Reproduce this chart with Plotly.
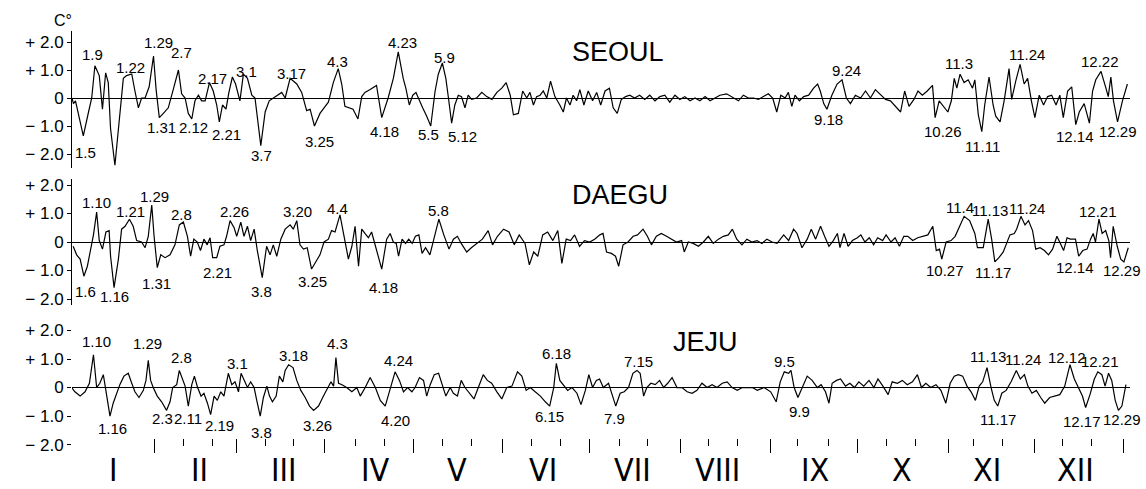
import plotly.graph_objects as go

W, H = 1146, 489

# ---------------- data (day of year, anomaly in C) ----------------
seoul_day = [1.0,1.5,2.2,4.9,6.7,7.8,8.9,10.4,11.5,12.6,13.5,14.3,15.8,17.5,18.7,19.8,21.6,22.7,23.9,25.0,26.2,27.6,29.1,30.0,31.1,32.5,34.2,35.9,37.7,38.8,40.0,41.1,42.3,43.4,44.6,45.7,46.9,48.4,49.7,50.9,51.8,52.9,54.1,55.1,56.3,57.4,58.9,60.1,61.5,63.0,64.1,66.1,67.6,69.0,70.4,72.2,73.3,74.5,76.2,78.5,80.2,81.9,83.1,84.6,86.5,88.3,89.4,91.1,92.8,94.0,95.1,97.9,99.6,100.9,102.0,103.8,106.0,107.8,110.0,111.8,113.5,115.2,116.1,117.3,118.5,119.6,120.8,121.9,123.3,124.7,126.2,127.3,128.7,129.9,130.8,131.9,133.0,134.2,135.3,136.5,137.6,138.8,140.5,142.3,144.0,145.8,147.5,149.2,150.7,152.1,153.2,154.9,156.4,157.8,158.9,160.1,161.2,162.4,163.5,164.7,166.0,167.5,169.2,170.4,171.5,172.7,173.8,175.0,176.1,177.5,179.0,180.5,181.9,183.3,184.8,186.3,187.6,189.0,190.4,191.9,193.3,195.0,196.7,198.5,200.2,202.0,203.7,205.4,207.1,208.9,210.6,212.3,214.1,215.8,217.5,219.3,221.0,222.7,224.4,226.7,229.0,230.8,232.5,234.2,236.0,237.7,239.4,241.1,242.6,244.0,245.4,246.9,248.0,249.2,250.3,251.8,253.3,255.0,256.7,258.1,259.0,260.2,261.3,263.0,264.8,266.5,268.0,269.4,271.1,272.9,274.6,276.3,278.0,279.8,281.5,283.2,285.0,286.7,288.1,289.6,291.3,292.7,294.2,295.9,297.7,298.6,300.0,301.7,303.0,304.2,305.2,306.1,307.2,308.6,310.0,311.5,312.3,313.5,314.7,315.7,317.2,318.6,319.5,321.0,322.4,324.1,325.0,326.4,327.9,329.3,330.5,331.8,333.0,334.5,336.0,337.4,338.8,340.3,341.6,342.8,344.3,345.7,347.1,348.3,350.0,351.8,352.9,354.0,355.8,357.5,358.3,359.2,360.1,361.5,363.2,364.9]
seoul_val = [0,-0.2,-0.1,-1.35,-0.5,0,1.15,0.8,-0.4,0.9,0.55,-1.1,-2.4,-0.6,0.7,0.8,0.86,0.25,-0.35,0,0,0.4,1.5,0.3,-0.7,-0.55,-0.35,0.3,1.0,0.15,0,-0.55,-0.75,-0.1,0.1,-0.1,-0.1,0.55,0.25,-0.25,-0.85,-0.25,-0.4,0.2,0.75,0.5,-0.1,0.85,0.7,0.1,0,-1.7,-0.5,-0.1,0,0.1,0.2,0,0.7,0.5,0.2,-0.45,-0.4,-1.0,-0.55,-0.3,-0.15,0.55,1.05,0.5,-0.3,-0.4,-0.75,0.05,0.2,0.3,0.45,-0.7,0,0.7,1.65,0.7,0.35,-0.25,0.1,0.2,-0.1,-0.35,-0.65,-1.0,0.25,0.85,1.25,0.7,0,-0.9,-0.25,0.1,0.05,-0.35,0.1,-0.05,0,0.2,0.05,-0.05,0.2,0.35,0.55,0.1,-0.6,-0.55,0.25,0,0.2,-0.25,0.05,0.1,0.25,0,0.6,0.05,-0.25,-0.5,0,-0.25,0.1,-0.1,0.3,-0.25,0.25,-0.1,0.2,-0.25,0.25,0.35,-0.35,-0.55,-0.05,0.05,0.1,0,0.1,-0.05,0.1,-0.1,0.05,0.1,-0.15,0.1,-0.05,0.05,-0.1,0,-0.1,0.05,-0.1,0,0.1,0.15,0,-0.1,0.1,0,0,-0.05,0.05,0.15,0,-0.5,0.1,0,0.2,-0.3,0.1,-0.1,0.05,0.1,0.35,0.5,0.25,-0.2,-0.4,0.1,0.5,0.65,0,-0.2,0.1,0,0.25,0,0.3,0.1,-0.05,-0.1,-0.3,-0.5,0.25,-0.3,-0.05,0.25,0.1,0.25,0.45,-0.7,-0.1,-0.35,-0.5,-0.1,0.7,0.35,0.85,0.55,0.65,0.35,0.65,-0.6,-1.2,-0.25,0.75,-0.25,-0.65,-0.85,-0.1,1.05,-0.05,0.6,1.2,0.5,0.7,-0.1,-0.7,0.1,-0.25,0.05,0.1,-0.25,0.1,-0.7,0.25,0.4,-0.95,-0.5,-0.2,-0.9,0.25,0.65,0.95,0.35,0.05,0.75,-0.1,-0.85,-0.1,0.5]

daegu_day = [1.4,2.6,3.8,5.1,6.3,7.4,8.4,9.5,10.4,11.5,12.7,13.8,14.3,15.5,17.0,18.1,19.3,20.8,22.1,23.3,25.0,26.2,27.3,28.5,29.3,30.4,31.6,33.1,34.8,36.5,38.0,39.4,40.8,41.9,43.0,44.2,45.3,46.5,47.6,48.6,49.5,50.9,52.0,53.4,54.3,55.5,56.9,57.8,59.2,60.3,61.5,62.6,63.8,64.9,66.6,68.1,69.3,70.4,71.6,73.0,74.5,76.2,77.3,78.5,79.6,80.8,82.1,83.6,84.8,86.5,87.9,89.4,90.5,91.7,93.4,94.6,96.3,97.5,98.6,99.8,100.9,102.0,103.2,104.3,106.0,107.8,109.5,110.7,111.8,112.8,113.6,114.8,116.0,117.1,118.3,119.4,120.6,121.7,122.9,124.4,126.0,127.5,129.2,131.0,132.5,133.9,135.2,137.1,138.7,140.8,142.5,144.5,146.0,147.7,149.8,151.7,153.5,155.2,157.2,158.7,160.2,161.6,163.3,165.0,166.8,168.5,169.9,171.4,172.9,174.3,176.0,177.7,179.5,181.2,183.0,184.1,185.3,187.0,188.4,189.5,191.0,192.7,194.5,196.0,197.9,199.4,200.8,202.5,204.2,206.0,207.7,209.4,211.2,212.1,213.5,215.2,217.0,218.7,220.4,222.1,223.9,225.6,227.3,228.7,230.2,232.0,233.7,235.4,237.2,238.9,240.6,242.4,244.1,246.4,248.1,249.8,251.0,252.7,254.5,255.9,257.4,259.1,260.5,262.0,263.5,264.9,265.8,267.2,268.6,270.1,271.8,273.0,274.4,275.9,277.4,278.8,280.5,281.7,283.4,284.8,286.3,287.8,289.2,290.9,292.6,294.4,296.1,297.8,299.0,300.1,300.9,302.4,304.1,305.5,307.0,308.6,310.5,312.3,313.2,315.2,316.9,318.1,319.2,320.6,322.1,323.3,324.4,325.9,326.7,328.2,329.6,330.8,332.2,333.3,334.8,336.3,337.7,339.1,340.6,342.0,342.9,344.1,345.2,347.0,348.1,349.5,351.0,352.2,353.1,353.9,355.1,356.2,357.4,358.5,359.1,360.0,361.4,362.6,363.7,365.2]
daegu_val = [-0.15,-0.45,-0.6,-1.2,-0.85,-0.25,0.25,1.05,0.05,-0.25,0.35,0.4,-0.5,-1.6,-0.6,0.45,0.55,0.8,0.55,0.05,0,-0.2,0.2,1.3,0.2,-0.9,-0.45,-0.55,-0.45,-0.1,0.6,0.7,0.2,-0.5,0.1,0,-0.3,0.1,-0.1,0.15,-0.55,-0.55,-0.15,-0.1,0.2,0.75,0.5,0.2,0.7,0.2,0.55,0.05,0.45,-0.3,-1.25,-0.15,-0.45,-0.1,-0.5,0.1,0.45,0.6,0.45,0.75,-0.1,-0.25,-0.2,-0.95,-0.75,-0.45,0,0.1,0.4,0.35,0.95,0.3,-0.6,-0.15,0.55,-0.85,0.45,0.3,0.15,0.35,-0.25,-0.95,0.1,0.3,0,-0.05,-0.5,0.1,-0.05,0.1,-0.05,0.2,0.25,-0.4,-0.2,-0.45,0.2,0.8,0.25,-0.25,0.1,0.2,-0.05,-0.35,-0.2,-0.05,0.1,0.4,-0.1,0.2,0.45,0.35,-0.1,0.25,-0.05,-0.8,-0.35,-0.5,0.25,0.35,0.05,0.4,-0.75,0.1,0.05,0.25,-0.15,0.05,0,0.1,0.25,0.3,-0.35,-0.4,-0.5,-0.85,-0.1,0,0.2,0.25,0.45,0.2,-0.1,0.2,0.3,0.2,0.1,0,0.05,-0.35,0,-0.05,-0.15,0,0.2,-0.05,0.1,0.2,0.25,0.45,0.1,-0.1,0.1,0,0.05,-0.05,0.1,0,-0.05,0.25,0.05,0.45,0.3,-0.2,0.1,0.45,0.1,0.55,0.2,-0.15,0.05,0.3,-0.2,0.3,-0.15,0.05,0.15,0.25,0,0.15,-0.1,0.15,0.05,0.25,0,0.15,-0.15,0.2,0.2,0.05,0.15,0.2,0.25,0.55,-0.3,-0.25,-0.6,0,0.05,0.2,0.55,0.9,0.75,0.3,-0.2,-0.2,0.8,0.1,-0.7,-0.55,-0.35,0,0.25,0.3,0.45,0.9,0.6,0.75,0.4,-0.25,-0.2,-0.3,-0.45,-0.25,0.2,-0.1,-0.3,0.15,0.1,0.1,-0.5,-0.3,-0.25,0.1,0.3,0,0.8,0.3,0.4,0.05,-0.55,0.55,-0.15,-0.6,-0.7,-0.2]

jeju_day = [0.9,2.0,3.8,5.5,7.0,8.4,9.5,10.6,11.8,12.9,14.1,15.2,16.4,17.5,18.9,20.4,21.6,22.7,24.1,25.6,26.5,27.3,28.1,29.0,30.4,31.9,33.6,34.8,35.7,37.1,38.0,39.2,40.0,41.1,42.3,43.2,44.3,45.5,46.5,47.7,48.8,50.0,51.1,52.3,53.4,54.9,56.1,57.2,58.4,59.3,60.3,61.5,62.6,63.8,64.7,65.9,67.0,68.2,69.1,70.1,71.4,72.5,73.7,74.5,75.7,77.2,78.5,79.9,81.4,82.9,84.3,86.0,87.7,89.1,90.3,91.2,92.0,92.9,94.1,95.7,97.5,99.2,100.4,102.1,103.8,105.6,107.3,109.0,110.8,112.4,113.9,115.3,116.7,118.2,119.3,120.8,122.2,123.3,124.5,125.9,127.4,128.5,129.9,131.4,132.5,133.9,135.2,136.5,138.0,139.6,141.1,142.8,144.2,145.7,147.5,149.2,150.9,152.7,154.6,156.1,157.6,159.0,160.7,162.5,164.2,165.7,167.1,168.0,169.2,170.5,171.9,173.4,175.1,176.5,178.0,179.2,180.5,181.8,182.9,184.2,186.0,187.4,188.5,190.0,191.4,192.9,194.4,195.8,196.9,198.1,199.2,200.6,202.1,203.6,205.0,206.4,207.9,209.6,211.3,213.1,214.8,216.5,218.2,220.0,221.7,223.4,225.2,226.9,228.6,230.4,232.1,233.8,235.6,237.3,239.6,241.9,243.8,245.2,246.6,248.1,248.9,250.0,251.3,252.8,254.5,256.2,258.0,259.3,260.8,262.0,263.1,264.6,266.0,267.7,269.2,270.8,272.3,274.0,275.8,277.5,278.9,280.6,282.4,283.8,285.6,287.3,289.0,290.8,292.5,293.9,295.4,297.1,298.9,300.6,302.3,303.8,305.2,306.6,308.1,309.6,311.0,312.5,313.8,315.0,316.5,317.9,319.0,320.2,321.6,323.1,324.8,326.6,328.0,329.4,330.6,332.0,333.5,335.0,336.4,338.1,339.9,341.6,343.3,345.1,346.6,348.0,349.4,350.5,352.0,353.5,354.7,356.1,357.2,358.4,359.5,360.7,361.8,363.0,364.4]
jeju_val = [0,-0.15,-0.3,-0.15,0.15,1.15,0,0.15,0.45,-0.2,-1.0,-0.55,-0.2,0.1,0.4,0.5,0.15,-0.15,-0.35,-0.1,0.25,0.95,0.25,0,-0.3,-0.5,-0.8,-0.5,0,0.1,0.6,0.25,0.05,-0.65,0.1,0.4,0,-0.3,-0.2,-0.55,-0.95,-0.3,-0.45,-0.15,-0.3,0.5,0.1,0.2,-0.15,0.5,0.25,0,0.2,0,-0.45,-1.0,-0.35,0.05,-0.3,-0.5,-0.3,0.4,0.2,0.6,0.8,0.7,0.25,-0.1,-0.35,-0.65,-0.8,-0.65,-0.3,0,0.2,0.05,1.05,0.15,0.1,0,-0.15,0,-0.3,0,0.35,0,-0.45,-0.65,-0.05,0.55,0.25,-0.15,0,-0.15,0,0.35,0.25,-0.3,0.1,0.45,0.5,0.15,-0.3,0,-0.2,-0.3,0.25,0,-0.2,-0.4,0,0.45,0.25,0.15,-0.15,-0.4,0,0.05,0.55,0.4,-0.1,0,-0.15,-0.3,-0.5,-0.65,0,0.85,0.25,0.1,-0.1,0,-0.2,-0.6,-0.1,0.45,0,0.25,0.3,0,0.15,-0.3,-0.65,-0.2,-0.15,0,0.5,0.6,0.5,-0.3,0,0.15,0.1,0.25,0,0.15,0.35,0,0,-0.15,-0.2,-0.1,0.15,0,0.1,0,0.15,0.2,0,-0.1,0,0,0,-0.1,0,-0.15,-0.5,0.2,0.55,0.5,0.6,0,-0.35,0,0.4,0.25,0,0.1,-0.15,-0.55,0.15,0.25,0.3,0.05,0.15,0,0.2,0.05,0.25,0,0.3,0.05,-0.25,0.2,0.15,0.25,0.1,0.2,0.45,0,0.15,0,0.1,-0.1,-0.55,0.15,0.4,0.45,0.4,0.05,-0.15,-0.45,0.05,0.2,0.7,0,-0.45,-0.65,-0.2,-0.1,0.2,0.6,0.3,0.45,0.05,-0.2,-0.1,-0.35,-0.55,-0.35,-0.3,-0.25,0.05,0.8,0.3,0,-0.3,-0.7,-0.25,0.3,0.55,0.45,0.05,0.5,0.25,-0.45,-0.8,-0.65,0.1]

# ---------------- date labels (text, day, value) ----------------
seoul_lab = ["1.9","1.5","1.16","1.22","1.29","1.31","2.7","2.12","2.17","2.21","3.1","3.7","3.17","3.25","4.3","4.18","4.23","5.9","5.5","5.12","9.24","9.18","10.26","11.3","11.11","11.24","12.14","12.22","12.29"]
seoul_lab_day = [8.2,5.5,15.1,21.0,30.7,32.0,38.9,43.0,49.3,54.4,61.3,66.5,76.8,86.5,92.7,108.9,114.8,129.6,123.8,135.8,268.2,261.7,301.3,306.9,315.0,330.2,346.9,355.5,361.7]
seoul_lab_val = [1.54,-1.93,-2.71,1.1,2.0,-1.04,1.64,-1.04,0.68,-1.29,0.96,-2.07,0.89,-1.54,1.29,-1.18,2.0,1.46,-1.29,-1.39,0.97,-0.77,-1.2,1.22,-1.73,1.55,-1.38,1.3,-1.2]

daegu_lab = ["1.6","1.10","1.16","1.21","1.29","1.31","2.8","2.26","2.21","3.8","3.20","3.25","4.4","4.18","5.8","10.27","11.4","11.13","11.17","11.24","12.14","12.21","12.29"]
daegu_lab_day = [5.5,9.6,15.8,21.0,29.6,30.2,38.9,57.2,51.3,66.5,78.6,84.0,92.7,108.3,127.3,302.0,307.2,317.6,318.6,330.2,346.9,354.8,363.0]
daegu_lab_val = [-1.74,1.38,-1.92,1.06,1.6,-1.46,0.96,1.06,-1.08,-1.74,1.06,-1.39,1.17,-1.6,1.12,-1.0,1.2,1.1,-1.08,1.17,-0.9,1.07,-1.0]

jeju_lab = ["1.10","1.16","1.29","2.8","2.3","2.11","2.19","3.1","3.8","3.18","3.26","4.3","4.24","4.20","6.18","6.15","7.9","7.15","9.5","9.9","11.13","11.17","11.24","12.12","12.21","12.17","12.29"]
jeju_lab_day = [9.6,14.8,26.9,38.9,32.3,40.9,52.0,58.2,66.5,77.3,85.5,92.4,113.5,112.4,168.2,165.5,188.2,196.5,246.5,252.0,316.9,320.3,328.9,344.1,355.5,349.3,363.0]
jeju_lab_val = [1.6,-1.43,1.56,1.07,-1.08,-1.08,-1.32,0.85,-1.57,1.13,-1.32,1.56,0.95,-1.16,1.2,-1.0,-1.09,0.92,0.91,-0.84,1.09,-1.12,0.98,1.05,0.91,-1.19,-1.12]

stations = ["SEOUL", "DAEGU", "JEJU"]
station_title_day = [189.3, 190.0, 219.3]
station_title_val = [1.64, 1.65, 1.6]

# month / dekad ticks and month names
month_tick_days = [29.3,57.6,88.2,118.6,149.6,179.6,210.7,241.7,272.0,303.1,332.7,363.4]
dekad_tick_days = [39.3,49.6,67.6,77.2,98.9,108.9,128.6,138.9,159.6,169.3,189.9,199.6,220.3,230.3,251.3,261.7,281.7,291.7,311.7,321.7,342.4,352.4]
month_names = ["I","II","III","IV","V","VI","VII","VIII","IX","X","XI","XII"]
month_name_days = [15.1,45.1,73.8,105.5,133.8,163.4,194.1,223.4,257.2,287.2,316.5,346.9]

ytick_vals = [-2, -1, 0, 1, 2]
ytick_text = ["\u2212 2.0", "\u2212 1.0", "0", "+ 1.0", "+ 2.0"]

# ---------------- layout geometry ----------------
def py(p):  # pixel-from-top -> paper fraction
    return (H - p) / H

x_dom = [72 / W, 1130 / W]
x_range = [1, 365.8]
y_specs = [  # (range, domain)
    ([-2.5, 2.4], [py(168.0), py(30.8)]),
    ([-2.2, 2.2], [py(304.7), py(179.3)]),
    ([-2.1, 2.2], [py(447.4), py(324.8)]),
]

FONT = "Liberation Sans, Arial, Helvetica, sans-serif"
NARROW = "Liberation Sans Narrow, Arial Narrow, DejaVu Sans Condensed, Roboto Condensed, Liberation Sans, sans-serif"

fig = go.Figure()
series = [(seoul_day, seoul_val), (daegu_day, daegu_val), (jeju_day, jeju_val)]
for i, (d, v) in enumerate(series):
    yname = "y" if i == 0 else f"y{i+1}"
    fig.add_trace(go.Scatter(x=d, y=v, mode="lines", xaxis="x", yaxis=yname,
                             line=dict(color="black", width=1.2), hoverinfo="skip",
                             showlegend=False))

layout = dict(
    width=W, height=H, paper_bgcolor="white", plot_bgcolor="white",
    margin=dict(l=0, r=0, t=0, b=0), showlegend=False,
    xaxis=dict(domain=x_dom, range=x_range, anchor="free", position=py(438),
               showgrid=False, zeroline=False, showline=False,
               showticklabels=False, tickmode="array", tickvals=month_tick_days,
               ticks="outside", ticklen=14, tickwidth=1.2, tickcolor="black",
               minor=dict(tickmode="array", tickvals=dekad_tick_days, ticks="outside",
                          ticklen=7, tickwidth=1, tickcolor="black", showgrid=False)),
)
for i, (rng, dom) in enumerate(y_specs):
    key = "yaxis" if i == 0 else f"yaxis{i+1}"
    layout[key] = dict(domain=dom, range=rng, anchor="x", showgrid=False,
                       zeroline=True, zerolinecolor="black", zerolinewidth=1.2,
                       showline=(i < 2), linecolor="black", linewidth=1,
                       tickmode="array", tickvals=ytick_vals, ticktext=ytick_text,
                       ticks="outside", ticklen=4, tickcolor="black",
                       tickfont=dict(family=FONT, size=17, color="black"),
                       automargin=False)
fig.update_layout(**layout)

ann = []
labels = [(seoul_lab, seoul_lab_day, seoul_lab_val),
          (daegu_lab, daegu_lab_day, daegu_lab_val),
          (jeju_lab, jeju_lab_day, jeju_lab_val)]
for i, (t, d, v) in enumerate(labels):
    yref = "y" if i == 0 else f"y{i+1}"
    for tt, dd, vv in zip(t, d, v):
        ann.append(dict(text=tt, x=dd, y=vv, xref="x", yref=yref, showarrow=False,
                        font=dict(family=FONT, size=15, color="black")))
    ann.append(dict(text=stations[i], x=station_title_day[i], y=station_title_val[i],
                    xref="x", yref=yref, showarrow=False,
                    font=dict(family=FONT, size=27, color="black")))
for name, d in zip(month_names, month_name_days):
    ann.append(dict(text=name, x=d, y=py(449), xref="x", yref="paper", yanchor="top",
                    showarrow=False, font=dict(family=NARROW, size=32, color="black")))
ann.append(dict(text="C°", x=63 / W, y=py(21), xref="paper", yref="paper",
                xanchor="center", yanchor="middle",
                showarrow=False, font=dict(family=FONT, size=16, color="black")))
fig.update_layout(annotations=ann)

fig.write_html("out.html", config={"displayModeBar": False},
               post_script="document.body.style.margin='0';document.body.style.overflow='hidden';")
